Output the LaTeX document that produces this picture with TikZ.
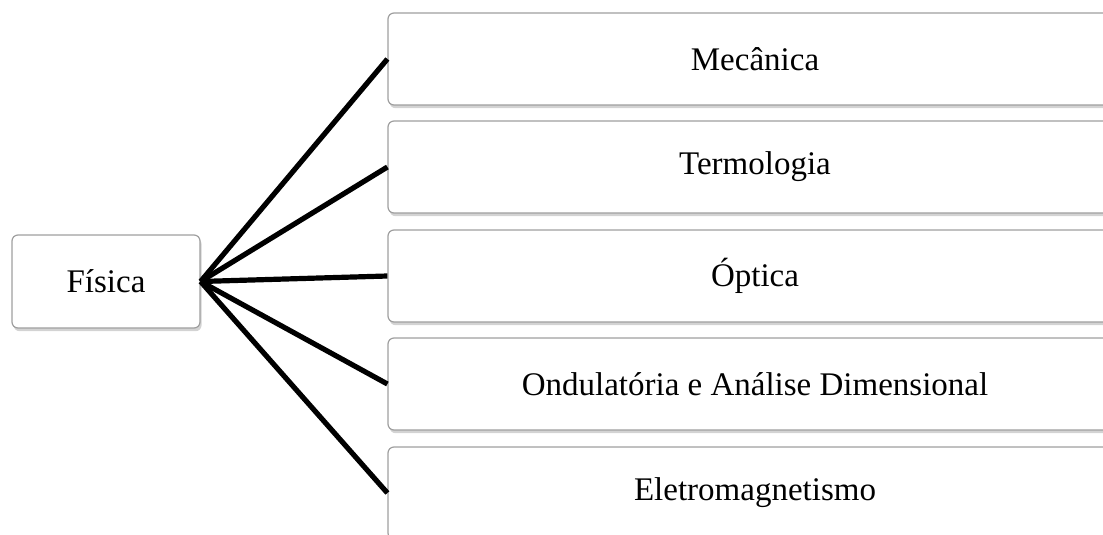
\documentclass[tikz,border=0pt]{standalone}
\usepackage{fontspec}
\setmainfont{Liberation Serif}
\usetikzlibrary{shadows}

\tikzset{
  card/.style={draw=gray!75, line width=0.6pt, rounded corners=3pt, fill=white,
    drop shadow={shadow xshift=0.8pt, shadow yshift=-1.6pt, opacity=0.35, fill=gray},
    font=\fontsize{16.5}{20}\selectfont},
  rootbox/.style={card, minimum width=94pt, minimum height=46.5pt},
  topic/.style={card, minimum width=367pt, minimum height=46pt},
  branch/.style={line width=2.6pt}
}

\begin{document}
\begin{tikzpicture}[x=0.5pt,y=-0.5pt]
    % Frame of the picture
    \useasboundingbox (0,0) rectangle (1103,535);
    \clip (0,0) rectangle (1103,535);

    % Root node
    \node[rootbox] (fis) at (106,281.5) {Física};

    % Areas
    \node[topic] (mec) at (755,59) {Mecânica};
    \node[topic] (ter) at (755,167) {Termologia};
    \node[topic] (opt) at (755,276) {Óptica};
    \node[topic] (ond) at (755,384) {Ondulatória e Análise Dimensional};
    \node[topic] (ele) at (755,493) {Eletromagnetismo};

    % Branches
    \foreach \t in {mec,ter,opt,ond,ele}
        \draw[branch] (fis.east) -- (\t.west);
\end{tikzpicture}
\end{document}
